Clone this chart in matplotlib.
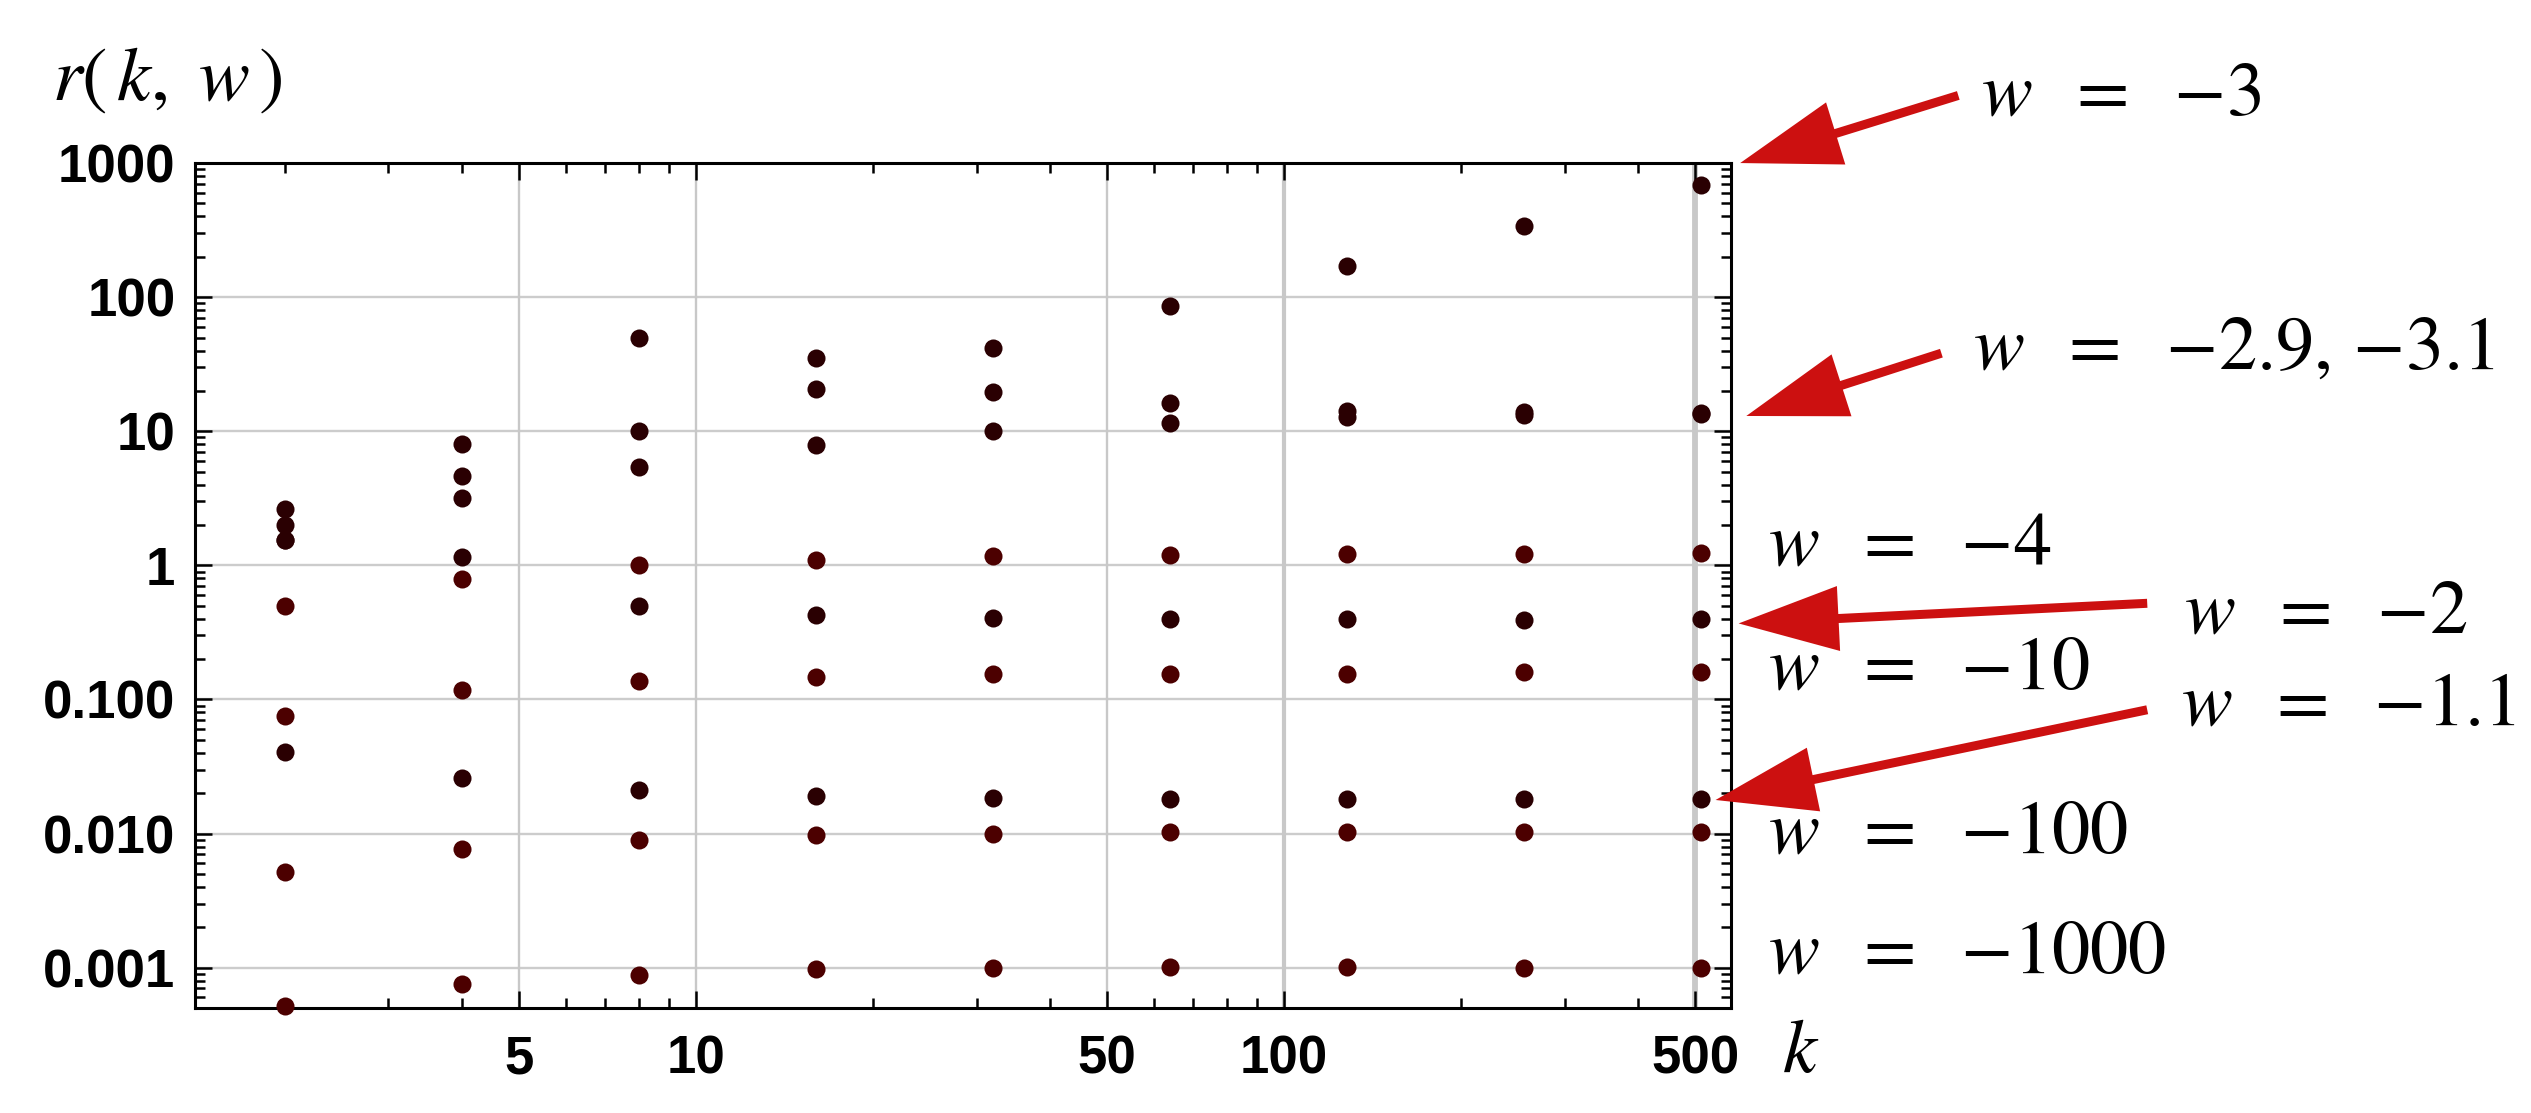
import matplotlib
matplotlib.use('Agg')
import matplotlib.pyplot as plt
import matplotlib.ticker as tck

plt.rcParams['mathtext.fontset'] = 'stix'  # Times-like maths text

# k values on the x axis
k_vals = [2, 4, 8, 16, 32, 64, 128, 256, 512]

# r(k, w), one list per w
r_w3 = [2.62, 8.0, 49.9, 35.1, 42.1, 85.7, 170, 340, 690]
r_w29 = [2.00, 4.62, 10.0, 20.6, 19.5, 16.2, 14.2, 13.9, 13.6]
r_w31 = [1.54, 3.2, 5.44, 7.86, 10.0, 11.45, 12.7, 13.2, 13.4]
r_w2 = [1.54, 1.156, 0.494, 0.428, 0.408, 0.40, 0.396, 0.39, 0.40]
r_w4 = [0.494, 0.786, 1.0, 1.09, 1.18, 1.2, 1.21, 1.21, 1.24]
r_w10 = [0.0755, 0.1167, 0.1375, 0.147, 0.154, 0.156, 0.156, 0.159, 0.159]
r_w11 = [0.0404, 0.0261, 0.0210, 0.0191, 0.0185, 0.0182, 0.0182, 0.0182, 0.0182]
r_w100 = [0.00514, 0.00763, 0.0090, 0.0097, 0.0099, 0.0102, 0.0102, 0.0102, 0.0102]
r_w1000 = [0.00052, 0.00075, 0.00088, 0.00097, 0.001, 0.00102, 0.00102, 0.001, 0.001]

# tick values and their labels
ytick_vals = [1000, 100, 10, 1, 0.1, 0.01, 0.001]
ytick_labels = ['1000', '100', '10', '1', '0.100', '0.010', '0.001']
xtick_vals = [5, 10, 50, 100, 500]
xtick_labels = ['5', '10', '50', '100', '500']

dark = '#2a0002'
red = '#4c0000'
arrow_red = '#cc1010'

series = [(r_w3, dark), (r_w29, dark), (r_w31, dark), (r_w2, dark),
          (r_w11, dark), (r_w4, red), (r_w10, red), (r_w100, red),
          (r_w1000, red)]

W, H = 2531, 1113
fig = plt.figure(figsize=(W / 100, H / 100), dpi=100)
ax = fig.add_axes([0.0770, 0.0943, 0.6069, 0.7592])

for vals, col in series:
    ax.plot(k_vals, vals, linestyle='none', marker='o', markersize=13,
            color=col, markeredgewidth=0, clip_on=False, zorder=3)

ax.set_xscale('log')
ax.set_yscale('log')
ax.set_xlim(1.406, 575)
ax.set_ylim(5.0e-4, 1000)

# grid lines, light grey; 100 and 500 come out heavier in the original
for y in ytick_vals[1:]:
    ax.axhline(y, color='#cccccc', lw=1.7, zorder=0.5)
grid_w = {5: 1.7, 10: 1.7, 50: 1.7, 100: 3.0, 500: 4.2}
for x in xtick_vals:
    ax.axvline(x, color='#c8c8c8', lw=grid_w[x], zorder=0.5)

tick_font = {'fontsize': 38, 'fontweight': 'bold', 'family': 'Liberation Sans'}
ax.set_yticks(ytick_vals)
ax.set_yticklabels(ytick_labels, fontdict=tick_font)
ax.set_xticks(xtick_vals)
ax.set_xticklabels(xtick_labels, fontdict=tick_font)
ax.yaxis.set_minor_locator(tck.LogLocator(base=10, subs=range(2, 10), numticks=20))
ax.xaxis.set_minor_locator(tck.LogLocator(base=10, subs=range(1, 10), numticks=20))
ax.xaxis.set_minor_formatter(tck.NullFormatter())
ax.yaxis.set_minor_formatter(tck.NullFormatter())
ax.tick_params(which='both', direction='in', top=True, right=True, width=1.8)
ax.tick_params(which='major', length=12)
ax.tick_params(which='minor', length=7)
ax.tick_params(axis='y', which='major', pad=14)
ax.tick_params(axis='x', which='major', pad=19)
for sp in ax.spines.values():
    sp.set_linewidth(2.2)

def fx(px):  # pixel -> figure fraction
    return px / W

def fy(py):
    return 1 - py / H

big = 55
fig.text(fx(52), fy(100), r'$r(\,k,\ w\,)$', fontsize=big)
fig.text(fx(1782), fy(1072), r'$k$', fontsize=big)

# labels for the curves
lab_text = [r'$w\;\ =\;\ {-}3$', r'$w\;\ =\;\ {-}2.9,\,{-}3.1$', r'$w\;\ =\;\ {-}4$',
            r'$w\;\ =\;\ {-}2$', r'$w\;\ =\;\ {-}10$', r'$w\;\ =\;\ {-}1.1$',
            r'$w\;\ =\;\ {-}100$', r'$w\;\ =\;\ {-}1000$']
lab_pos = [(1981, 114), (1973, 369), (1768, 564), (2184, 632), (1768, 688),
           (2181, 724), (1768, 852), (1768, 972)]
for t, (px, py) in zip(lab_text, lab_pos):
    fig.text(fx(px), fy(py), t, fontsize=big, va='baseline', ha='left')

# arrows: tip at the right edge (y in data), tail in axes fraction
arrows = [((1.006, 1000), (1.148, 1.080)),
          ((1.010, 13.0), (1.137, 0.775)),
          ((1.005, 0.369), (1.271, 0.479)),
          ((0.990, 0.0178), (1.271, 0.353))]
for tip, tail in arrows:
    ax.annotate('', xy=tip, xycoords=('axes fraction', 'data'),
                xytext=tail, textcoords='axes fraction',
                arrowprops=dict(arrowstyle='simple,head_length=1.0,head_width=0.65,tail_width=0.09',
                                mutation_scale=72, color=arrow_red, lw=0,
                                shrinkA=0, shrinkB=0),
                annotation_clip=False, zorder=5)

fig.savefig('out.png', dpi=100)
